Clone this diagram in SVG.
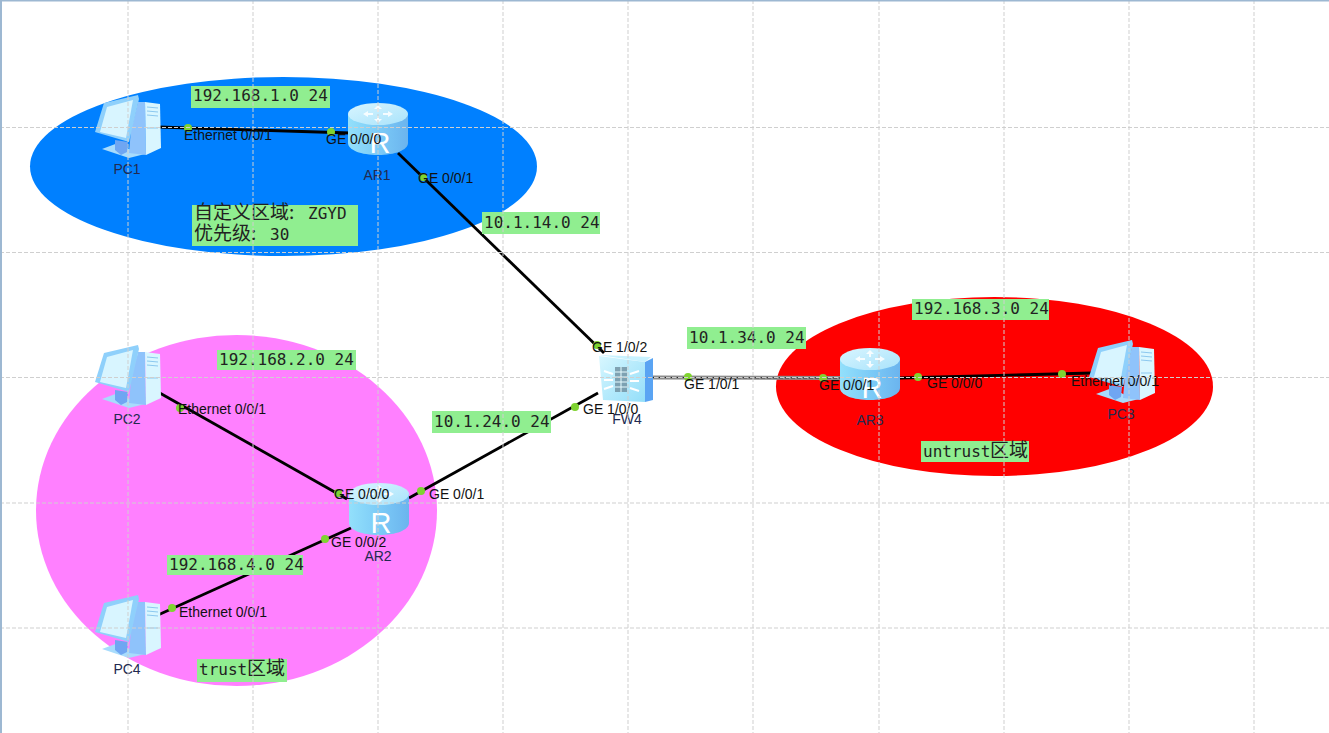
<svg xmlns="http://www.w3.org/2000/svg" xmlns:xlink="http://www.w3.org/1999/xlink" width="1329" height="733" viewBox="0 0 1329 733">
<style>
.lbl{font-family:"Liberation Sans",Arial,sans-serif;font-size:14px;fill:#111}
.name{font-family:"Liberation Sans",Arial,sans-serif;font-size:14px;fill:#222a50}
.note{font-family:"DejaVu Sans Mono","Noto Sans CJK SC",monospace;font-size:16px;fill:#222}
.cjk{font-family:"Noto Sans CJK SC","DejaVu Sans",sans-serif;font-size:19px;fill:#222}
.box{fill:#90ee90}
.wire{stroke:#000;stroke-width:2.8;fill:none}
.dot{fill:#7fd331}
.grid{stroke:#cfcfcf;stroke-width:1;stroke-dasharray:4 2;fill:none}
</style>
<defs>
<linearGradient id="rside" x1="0" x2="1" y1="0" y2="0"><stop offset="0" stop-color="#93e0fb"/><stop offset="0.5" stop-color="#7ccbf7"/><stop offset="1" stop-color="#6bb4ee"/></linearGradient>
<linearGradient id="rtop" x1="0" x2="1" y1="0" y2="1"><stop offset="0" stop-color="#d8f5ff"/><stop offset="1" stop-color="#a9e3fb"/></linearGradient>
<linearGradient id="fwf" x1="0" x2="1" y1="0" y2="1"><stop offset="0" stop-color="#d8f7ff"/><stop offset="1" stop-color="#93def9"/></linearGradient>
<g id="pc">
<path d="M11 59 L27 53 L40 60 L54 64 L38 68Z" fill="#a8dcfc"/>
<path d="M24 50 L37 52 L36 62 L30 65 L24 60Z" fill="#6fa6f2"/>
<path d="M47 12 L54 12 L55 65 L38 63 L40 40Z" fill="#8fc3fb"/>
<path d="M54 12 L69 14 L70 58 L55 65Z" fill="#d9f6ff"/>
<path d="M56 17 L67 18 M56 21 L67 22 M56 25 L67 26 M56 38 L67 38" stroke="#8cc8ef" stroke-width="1"/>
<path d="M13 13 L47 5 L48 9 L38 52 L4 42 Z" fill="#8fd0fb"/>
<path d="M16 17 L42 10 L35 48 L9 42Z" fill="#d8f5ff"/>
</g>
<g id="router">
<path d="M0 11 V40 C0 47 13 52 30 52 S60 47 60 40 V11Z" fill="url(#rside)"/>
<ellipse cx="30" cy="11" rx="30" ry="11" fill="url(#rtop)"/>
<path d="M30 2 L34 6 L31 6 L31 9 L29 9 L29 6 L26 6Z M30 20 L34 16 L31 16 L31 13 L29 13 L29 16 L26 16Z M15 11 L20 8 L20 10 L25 10 L25 12 L20 12 L20 14Z M45 11 L40 8 L40 10 L35 10 L35 12 L40 12 L40 14Z" fill="#fff" opacity="0.85"/>
<text x="32" y="50" text-anchor="middle" font-family="Liberation Sans,Arial,sans-serif" font-size="29" fill="#fff">R</text>
</g>
</defs>
<rect width="1329" height="733" fill="#fff"/>
<ellipse cx="283.5" cy="166.5" rx="253.5" ry="89.5" fill="#0080ff"/>
<ellipse cx="236.5" cy="510.5" rx="200.5" ry="175.5" fill="#ff80ff"/>
<ellipse cx="994.5" cy="386.5" rx="218.500" ry="89.5" fill="#ff0000"/>
<g id="connectors">
<path class="wire" d="M158 127 L350 133"/>
<path class="wire" d="M398 153 L604 353"/>
<path class="wire" d="M409 498 L598 393"/>
<path class="wire" d="M158 392 L347 499"/>
<path class="wire" d="M158 615 L351 528"/>
<path d="M653 377.500 L840 378" stroke="#8c8c8c" stroke-width="4" fill="none"/>
<path d="M653 377.500 L840 378" stroke="#222" stroke-width="1" stroke-dasharray="4 2" fill="none"/>
<path class="wire" d="M900 378 L1092 373"/>
</g>
<g id="PC1"><use xlink:href="#pc" href="#pc" x="91" y="90"/><text class="name" x="127" y="174" text-anchor="middle">PC1</text></g>
<g id="PC2"><use xlink:href="#pc" href="#pc" x="91" y="340"/><text class="name" x="127" y="424" text-anchor="middle">PC2</text></g>
<g id="PC4"><use xlink:href="#pc" href="#pc" x="91" y="590"/><text class="name" x="127" y="674" text-anchor="middle">PC4</text></g>
<g id="PC3"><use xlink:href="#pc" href="#pc" x="1085" y="335"/><text class="name" x="1121" y="419" text-anchor="middle">PC3</text></g>
<g id="AR1"><use xlink:href="#router" href="#router" x="348" y="103"/><text class="name" x="377" y="180" text-anchor="middle">AR1</text></g>
<g id="AR2"><use xlink:href="#router" href="#router" x="349" y="483"/><text class="name" x="378" y="561" text-anchor="middle">AR2</text></g>
<g id="AR3"><use xlink:href="#router" href="#router" x="840" y="348"/><text class="name" x="870" y="425" text-anchor="middle">AR3</text></g>
<g id="FW4">
<path d="M645 362 L653 358 L653 400 L645 402Z" fill="#5aa4f3"/>
<path d="M599 355 L651 357 L645 362Z" fill="#c8f2ff"/>
<path d="M599 356 L645 362 L645 402 L603 400Z" fill="url(#fwf)"/>
<rect x="615" y="367" width="12" height="25" fill="#6f8f9f" opacity="0.8"/>
<path d="M615 372h12M615 377h12M615 382h12M615 387h12M621 367v25" stroke="#e6fbff" stroke-width="1"/>
<path d="M604 371l9 3M604 380h9M604 389l9-3M630 374l9-3M630 381h9M630 388l9 3" stroke="#fff" stroke-width="2"/>
<text class="name" x="627" y="424" text-anchor="middle">FW4</text>
</g>
<g id="dots">
<circle class="dot" cx="188" cy="128" r="4"/><circle class="dot" cx="331" cy="132" r="4"/>
<circle class="dot" cx="423" cy="177" r="4"/><circle class="dot" cx="597" cy="345" r="4"/>
<circle class="dot" cx="575" cy="407" r="4"/><circle class="dot" cx="421" cy="491" r="4"/>
<circle class="dot" cx="180" cy="408" r="4"/><circle class="dot" cx="338" cy="493" r="4"/>
<circle class="dot" cx="325" cy="539" r="4"/><circle class="dot" cx="172" cy="608" r="4"/>
<circle class="dot" cx="688" cy="377" r="4"/><circle class="dot" cx="823" cy="378" r="4"/>
<circle class="dot" cx="918" cy="377" r="4"/><circle class="dot" cx="1062" cy="374" r="4"/>
</g>
<g id="port-labels">
<text class="lbl" x="184" y="140">Ethernet 0/0/1</text>
<text class="lbl" x="326" y="144">GE 0/0/0</text>
<text class="lbl" x="418" y="183">GE 0/0/1</text>
<text class="lbl" x="592" y="352">GE 1/0/2</text>
<text class="lbl" x="583" y="414">GE 1/0/0</text>
<text class="lbl" x="684" y="389">GE 1/0/1</text>
<text class="lbl" x="819" y="390">GE 0/0/1</text>
<text class="lbl" x="927" y="388">GE 0/0/0</text>
<text class="lbl" x="1071" y="386">Ethernet 0/0/1</text>
<text class="lbl" x="178" y="414">Ethernet 0/0/1</text>
<text class="lbl" x="334" y="499">GE 0/0/0</text>
<text class="lbl" x="429" y="499">GE 0/0/1</text>
<text class="lbl" x="331" y="547">GE 0/0/2</text>
<text class="lbl" x="179" y="617">Ethernet 0/0/1</text>
</g>
<g id="notes">
<rect class="box" x="191" y="86" width="139" height="22"/><text class="note" x="193" y="101">192.168.1.0 24</text>
<rect class="box" x="192" y="205" width="166" height="41"/>
<text class="cjk" x="194" y="219">自定义区域:</text><text class="note" x="308" y="219">ZGYD</text>
<text class="cjk" x="194" y="240">优先级:</text><text class="note" x="270" y="240">30</text>
<rect class="box" x="482" y="212" width="118" height="22"/><text class="note" x="484" y="228">10.1.14.0 24</text>
<rect class="box" x="217" y="350" width="139" height="20"/><text class="note" x="219" y="365">192.168.2.0 24</text>
<rect class="box" x="687" y="327" width="119" height="22"/><text class="note" x="689" y="343">10.1.34.0 24</text>
<rect class="box" x="912" y="299" width="137" height="21"/><text class="note" x="914" y="314">192.168.3.0 24</text>
<rect class="box" x="432" y="411" width="119" height="22"/><text class="note" x="434" y="427">10.1.24.0 24</text>
<rect class="box" x="921" y="441" width="108" height="21"/><text class="note" x="923" y="457">untrust</text><text class="cjk" x="990" y="457">区域</text>
<rect class="box" x="167" y="555" width="136" height="20"/><text class="note" x="169" y="570">192.168.4.0 24</text>
<rect class="box" x="197" y="659" width="90" height="23"/><text class="note" x="199" y="675">trust</text><text class="cjk" x="247" y="675">区域</text>
</g>
<g id="grid">
<path class="grid" d="M128 0V733M253 0V733M378 0V733M503 0V733M628 0V733M753 0V733M879 0V733M1004 0V733M1129 0V733M1254 0V733"/>
<path class="grid" d="M0 127.500H1329M0 252.500H1329M0 377.500H1329M0 503H1329M0 628H1329"/>
</g>
<g id="frame"><rect x="0" y="0" width="1329" height="1.500" fill="#9db8d2"/><rect x="0" y="0" width="2" height="733" fill="#9db8d2"/></g>
</svg>
